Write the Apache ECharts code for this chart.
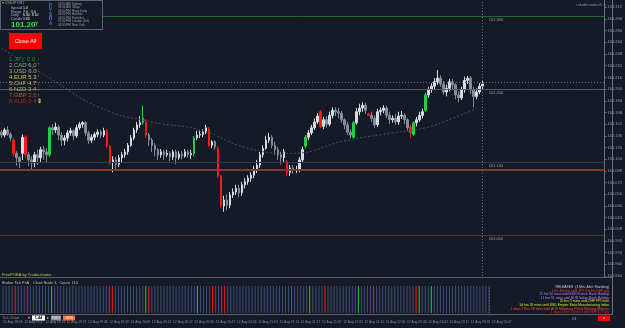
<!DOCTYPE html>
<html>
<head>
<meta charset="utf-8">
<script src="https://cdn.jsdelivr.net/npm/echarts/dist/echarts.min.js"></script>
<style>
html, body { margin: 0; padding: 0; background: #141b26; }
#chart-container { width: 625px; height: 328px; }
</style>
</head>
<body>
<div id="chart-container"></div>
<script>
// candles: [open, close, low, high]
const candles = [
  [101.141,101.137,101.133,101.144],[101.137,101.144,101.134,101.147],[101.144,101.138,101.136,101.149],[101.138,101.133,101.129,101.141],
  [101.130,101.112,101.108,101.133],[101.112,101.106,101.095,101.115],[101.106,101.100,101.092,101.108],[101.112,101.134,101.103,101.138],
  [101.134,101.110,101.106,101.137],[101.110,101.103,101.095,101.114],[101.103,101.099,101.089,101.108],[101.099,101.110,101.093,101.114],
  [101.110,101.106,101.096,101.117],[101.106,101.117,101.100,101.121],[101.117,101.114,101.103,101.122],[101.114,101.110,101.100,101.119],
  [101.110,101.147,101.107,101.149],[101.147,101.144,101.137,101.152],[101.144,101.148,101.140,101.154],[101.148,101.137,101.130,101.151],
  [101.137,101.130,101.122,101.141],[101.130,101.133,101.123,101.137],[101.133,101.140,101.128,101.144],[101.140,101.143,101.136,101.147],
  [101.143,101.136,101.130,101.145],[101.136,101.147,101.133,101.151],[101.147,101.152,101.144,101.155],[101.152,101.154,101.147,101.156],
  [101.154,101.140,101.136,101.156],[101.140,101.130,101.125,101.143],[101.130,101.134,101.126,101.138],[101.134,101.138,101.130,101.141],
  [101.138,101.141,101.134,101.145],[101.141,101.137,101.133,101.144],[101.137,101.143,101.134,101.147],[101.143,101.122,101.119,101.145],
  [101.122,101.100,101.096,101.123],[101.100,101.103,101.086,101.108],[101.103,101.097,101.089,101.107],[101.097,101.106,101.093,101.110],
  [101.106,101.110,101.100,101.114],[101.110,101.114,101.106,101.118],[101.114,101.123,101.110,101.126],[101.123,101.133,101.121,101.137],
  [101.133,101.144,101.130,101.147],[101.144,101.151,101.140,101.155],[101.151,101.154,101.147,101.163],[101.154,101.160,101.151,101.177],
  [101.155,101.137,101.133,101.159],[101.137,101.130,101.122,101.140],[101.130,101.123,101.114,101.133],[101.123,101.117,101.108,101.126],
  [101.117,101.110,101.103,101.119],[101.110,101.114,101.106,101.118],[101.114,101.110,101.103,101.117],[101.110,101.112,101.107,101.117],
  [101.112,101.107,101.101,101.115],[101.107,101.114,101.103,101.117],[101.114,101.106,101.097,101.117],[101.106,101.111,101.103,101.115],
  [101.111,101.108,101.104,101.115],[101.108,101.114,101.106,101.118],[101.114,101.110,101.106,101.117],[101.110,101.112,101.104,101.117],
  [101.112,101.133,101.108,101.136],[101.133,101.137,101.130,101.143],[101.137,101.138,101.133,101.143],[101.138,101.141,101.134,101.145],
  [101.141,101.147,101.138,101.151],[101.145,101.123,101.121,101.148],[101.123,101.128,101.119,101.130],[101.128,101.121,101.117,101.130],
  [101.119,101.081,101.078,101.122],[101.081,101.040,101.037,101.082],[101.040,101.048,101.032,101.054],[101.048,101.041,101.034,101.056],
  [101.041,101.055,101.037,101.059],[101.055,101.059,101.051,101.064],[101.059,101.064,101.055,101.069],[101.064,101.058,101.052,101.069],
  [101.058,101.069,101.054,101.073],[101.069,101.073,101.064,101.078],[101.073,101.078,101.069,101.082],[101.078,101.082,101.073,101.086],
  [101.082,101.089,101.078,101.095],[101.089,101.096,101.085,101.103],[101.096,101.110,101.092,101.114],[101.110,101.119,101.106,101.123],
  [101.119,101.130,101.117,101.136],[101.130,101.134,101.126,101.140],[101.134,101.123,101.119,101.137],[101.123,101.117,101.110,101.128],
  [101.117,101.110,101.103,101.121],[101.110,101.106,101.097,101.114],[101.106,101.114,101.100,101.118],[101.101,101.086,101.081,101.103],
  [101.086,101.092,101.081,101.096],[101.092,101.089,101.084,101.096],[101.089,101.090,101.085,101.095],[101.090,101.103,101.086,101.107],
  [101.103,101.117,101.099,101.121],[101.122,101.134,101.119,101.137],[101.134,101.140,101.130,101.144],[101.140,101.147,101.137,101.151],
  [101.147,101.155,101.144,101.160],[101.155,101.163,101.152,101.167],[101.169,101.149,101.147,101.171],[101.149,101.158,101.145,101.162],
  [101.158,101.152,101.147,101.163],[101.152,101.164,101.149,101.169],[101.164,101.171,101.160,101.175],[101.171,101.169,101.163,101.175],
  [101.169,101.167,101.160,101.174],[101.167,101.158,101.154,101.170],[101.158,101.151,101.145,101.160],[101.151,101.141,101.137,101.155],
  [101.141,101.137,101.133,101.145],[101.134,101.154,101.132,101.156],[101.154,101.169,101.151,101.174],[101.169,101.174,101.164,101.180],
  [101.174,101.178,101.169,101.182],[101.178,101.171,101.166,101.181],[101.166,101.164,101.163,101.167],[101.164,101.160,101.155,101.169],
  [101.160,101.151,101.147,101.164],[101.151,101.169,101.148,101.173],[101.169,101.171,101.164,101.175],[101.171,101.174,101.167,101.178],
  [101.174,101.164,101.160,101.177],[101.164,101.158,101.152,101.169],[101.158,101.160,101.154,101.164],[101.160,101.155,101.151,101.166],
  [101.155,101.163,101.151,101.169],[101.163,101.164,101.159,101.170],[101.164,101.158,101.152,101.167],[101.158,101.147,101.143,101.160],
  [101.148,101.140,101.133,101.151],[101.138,101.154,101.136,101.156],[101.154,101.158,101.149,101.162],[101.158,101.164,101.155,101.169],
  [101.164,101.169,101.160,101.173],[101.171,101.192,101.169,101.195],[101.192,101.199,101.188,101.203],[101.199,101.204,101.195,101.208],
  [101.204,101.210,101.200,101.215],[101.210,101.215,101.206,101.226],[101.215,101.207,101.203,101.219],[101.207,101.196,101.192,101.211],
  [101.196,101.201,101.190,101.206],[101.201,101.210,101.197,101.214],[101.210,101.206,101.199,101.214],[101.206,101.192,101.186,101.208],
  [101.192,101.188,101.182,101.197],[101.188,101.199,101.185,101.203],[101.199,101.212,101.195,101.217],[101.212,101.215,101.207,101.218],
  [101.215,101.199,101.193,101.218],[101.199,101.190,101.175,101.203],[101.190,101.196,101.186,101.201],[101.196,101.204,101.193,101.208],
  [101.204,101.207,101.200,101.211]
];
const redBars = [4, 8, 35, 36, 48, 69, 72, 73, 95, 106, 122, 136];
const greenBars = [16, 47, 64, 101, 117, 137, 141];
const maIndex = [0, 16, 33, 50, 66, 82, 96, 115, 130, 141, 150, 158];
const maValue = [101.256, 101.215, 101.174, 101.155, 101.144, 101.119, 101.112, 101.130, 101.140, 101.147, 101.160, 101.174];
const roundLevels = [101.3, 101.2, 101.1, 101.0];
const redLevel = 101.086;
const bidLine = 101.211, askLine = 101.205, lastPrice = 101.207;
const timeLabels = ['12 Aug 18:59','12 Aug 19:07','12 Aug 19:23','12 Aug 19:27','12 Aug 19:46','12 Aug 19:59',
  '12 Aug 20:09','12 Aug 20:13','12 Aug 20:27','12 Aug 20:36','12 Aug 20:47','12 Aug 20:56','12 Aug 21:03',
  '12 Aug 21:13','12 Aug 21:27','12 Aug 21:47','12 Aug 22:02','12 Aug 22:15','12 Aug 22:30','12 Aug 22:46',
  '12 Aug 23:02','12 Aug 23:17','12 Aug 23:31','12 Aug 23:47'];
const strength = [
  ['1.JPY 0.0', '#2f8a34', '↓', '#ff2020'], ['2.CAD 6.0', '#9c9c86', '↑', '#22d040'],
  ['3.USD 6.0', '#a8a890', '↓', '#ff2020'], ['4.EUR 5.3', '#d8c84a', '↑', '#22d040'],
  ['5.CHF 4.7', '#c8b83c', '↓', '#ff2020'], ['6.NZD 3.4', '#b8a860', '↓', '#ff2020'],
  ['7.GBP 2.6', '#b05a1a', '↑', '#22d040'], ['8.AUD 1.4', '#c02020', '⇕', '#d8d020']
];
const sessions = [['03:50 AM','Sydney'],['03:50 AM','Tokyo'],['03:50 PM','Hong Kong'],['03:50 PM','Helsinki'],
  ['03:50 PM','Frankfurt'],['07:50 PM','London (Dst)'],['02:50 PM','New York']];
const releases = [
  ['RELEASES  (3 Min. Alert Standing)', '#c8ccd4'],
  ['13m 46mins until JPY Prelim GDP q/q', '#ff3030'],
  ['11 hrs 50 mins until EUR French Bank Holiday', '#b080ff'],
  ['11 hrs 51 mins until EUR Italian Bank Holiday', '#b080ff'],
  ['20 hrs 5 mins until CHF PPI m/m', '#e8e020'],
  ['1d hrs 26 mins until USD Empire State Manufacturing Index', '#e8e020'],
  ['1 days 17hrs 29 mins until AUD Monetary Policy Meeting Minutes', '#ff5030'],
  ['1 days 11hrs 55mins until GBP CPI y/y', '#ff2020']
];

const nCats = 201;
const cats = [];
for (let i = 0; i < nCats; i++) cats.push(String(i));

const candleData = candles.map((c, i) => {
  if (redBars.includes(i)) return { value: c, itemStyle: { color: '#ff1a1a', color0: '#ff1a1a', borderColor: '#ff1a1a', borderColor0: '#ff1a1a' } };
  if (greenBars.includes(i)) return { value: c, itemStyle: { color: '#1fd040', color0: '#1fd040', borderColor: '#1fd040', borderColor0: '#1fd040' } };
  return c;
});
const maData = candles.map(() => null);
maIndex.forEach((idx, k) => { maData[idx] = maValue[k]; });
const tickBars = candles.map((c, i) => {
  let col = '#434c7a';
  if (redBars.includes(i)) col = '#ff1a1a';
  if (greenBars.includes(i)) col = '#1fd040';
  return { value: 1, itemStyle: { color: col } };
});

const font = 'Liberation Sans';
function txt(x, y, text, size, fill, extra) {
  return Object.assign({ type: 'text', x: x, y: y, z: 101,
    style: Object.assign({ text: text, fontSize: size, fill: fill, fontFamily: font }, extra || {}) });
}

const graphics = [];
// info panel
graphics.push({ type: 'rect', z: 100, shape: { x: 0.5, y: 0.5, width: 102, height: 29 },
  style: { fill: '#141b26', stroke: '#5d626b', lineWidth: 1 } });
graphics.push(txt(2, 1.5, '▾ USDJPY,M1', 3.5, '#9aa0a8'));
[['Spread', '1.0'], ['Range', '7.0   3.4'], ['Daily', '6.30  8.10'], ['Candle', '1:03']].forEach((r, k) => {
  graphics.push(txt(11, 6.5 + k * 3.5, r[0], 3.5, '#a8b4e0'));
  graphics.push(txt(23, 6.5 + k * 3.5, r[1], 3.5, '#e8e8e8'));
});
graphics.push(txt(11, 20.5, '101.20', 8, '#33e04a', { fontWeight: 'bold' }));
graphics.push(txt(35, 22.5, '7', 5, '#33e04a', { fontWeight: 'bold' }));
['P', 'V', 'S', 'R', 'A'].forEach((ch, k) => graphics.push(txt(49, 3 + k * 4.5, ch, 4.5, '#4f7fd0', { fontWeight: 'bold' })));
sessions.forEach((s, k) => {
  graphics.push(txt(58, 2.5 + k * 3.5, s[0], 3, '#9aa0a8'));
  graphics.push(txt(72, 2.5 + k * 3.5, s[1], 3, '#9aa0a8'));
});
// close all button
graphics.push({ type: 'rect', z: 100, shape: { x: 9, y: 33, width: 33, height: 16 }, style: { fill: '#ff0000' } });
graphics.push(txt(25.5, 41, 'Close All', 5.5, '#ffffff', { align: 'center', verticalAlign: 'middle' }));
// currency strength
strength.forEach((s, k) => {
  graphics.push(txt(9, 56 + k * 6.1, s[0], 6, s[1]));
  graphics.push(txt(37, 55.5 + k * 6.1, s[2], 6, s[3], { fontWeight: 'bold' }));
});
// top right
graphics.push(txt(606, 2.5, 'rukabhandari5 ◷', 4, '#8a9098', { align: 'right' }));
// bottom panel captions and separators
graphics.push({ type: 'line', z: 50, shape: { x1: 0, y1: 277.5, x2: 612, y2: 277.5 }, style: { stroke: '#5a5f68', lineWidth: 1 } });
graphics.push({ type: 'line', z: 50, shape: { x1: 0, y1: 314.5, x2: 612, y2: 314.5 }, style: { stroke: '#5a5f68', lineWidth: 1 } });
graphics.push({ type: 'line', z: 50, shape: { x1: 612.5, y1: 0, x2: 612.5, y2: 315 }, style: { stroke: '#6a707a', lineWidth: 1 } });
graphics.push(txt(2, 272.5, 'FreePOBA by Tradershome', 4, '#b8c840'));
graphics.push(txt(2, 280.5, 'Broker Tick PsA    Chart Scale 3,  Count  110', 3.8, '#c0c4cc'));
// tick chart row
graphics.push(txt(2, 316, 'Tick Chart', 3.8, '#8a9098'));
graphics.push(txt(28, 316, '▾', 3.8, '#c0c4cc'));
graphics.push({ type: 'rect', z: 100, shape: { x: 32, y: 315.5, width: 13, height: 5 }, style: { fill: '#ffffff' } });
graphics.push(txt(38.5, 318, '1.44', 3.8, '#000000', { align: 'center', verticalAlign: 'middle', fontWeight: 'bold' }));
graphics.push(txt(47, 316, '▸', 3.8, '#c0c4cc'));
graphics.push({ type: 'rect', z: 100, shape: { x: 51, y: 315.5, width: 10, height: 5 }, style: { fill: '#8a8fa8' } });
graphics.push(txt(56, 318, 'EBBO', 3, '#e0e0e0', { align: 'center', verticalAlign: 'middle' }));
graphics.push({ type: 'rect', z: 100, shape: { x: 63, y: 315.5, width: 12, height: 5 }, style: { fill: '#ff6a3a' } });
graphics.push(txt(69, 318, 'GBPA', 3, '#ffe0d0', { align: 'center', verticalAlign: 'middle' }));
// releases
releases.forEach((r, k) => graphics.push(txt(609, 285.5 + k * 3.6, r[0], 3.4, r[1], { align: 'right' })));
graphics.push(txt(572, 316.5, '24', 4, '#9aa0a8'));
graphics.push({ type: 'rect', z: 100, shape: { x: 598, y: 315.5, width: 12, height: 5.5 }, style: { fill: '#ff0000' } });
graphics.push(txt(604, 318.3, 'x', 4, '#ffffff', { align: 'center', verticalAlign: 'middle' }));

const levelLines = roundLevels.map((v, k) => ({
  yAxis: v,
  lineStyle: { color: ['#1f6a2c', '#4c525c', '#2e3b58', '#4a3c32'][k], width: 1, type: 'solid' },
  label: { show: false }
}));
const levelLabels = roundLevels.map(v => ({
  coord: ['162', v], symbol: 'rect', symbolSize: 0,
  label: { show: true, formatter: v.toFixed(3), position: [0, 2], fontSize: 4, color: '#9aa0a8', fontFamily: font }
}));

let dom = document.getElementById('chart-container');
let myChart = echarts.init(dom, null, { renderer: 'canvas', useDirtyRect: false });

let option = {
  backgroundColor: '#141b26',
  animation: false,
  textStyle: { fontFamily: font },
  grid: [
    { left: 0, right: 13, top: 0, height: 276 },
    { left: 0, right: 13, top: 286, height: 27 }
  ],
  xAxis: [
    { type: 'category', gridIndex: 0, data: cats, show: false },
    { type: 'category', gridIndex: 1, data: cats,
      axisLine: { show: false }, axisTick: { show: false },
      axisLabel: { interval: 6, align: 'left', margin: 8, fontSize: 3.3, color: '#8a9098',
        formatter: (v, idx) => timeLabels[idx / 7] || '' } }
  ],
  yAxis: [
    { type: 'value', gridIndex: 0, position: 'right', min: 100.944, max: 101.322, interval: 0.016,
      splitLine: { show: false },
      axisLine: { show: true, lineStyle: { color: '#6a707a' } },
      axisTick: { show: true, length: 2, lineStyle: { color: '#6a707a' } },
      axisLabel: { fontSize: 4, color: '#9aa0a8', margin: 3, showMaxLabel: false, formatter: v => v.toFixed(3) } },
    { type: 'value', gridIndex: 1, min: 0, max: 1, show: false }
  ],
  series: [
    {
      type: 'line', name: 'MA', xAxisIndex: 0, yAxisIndex: 0,
      data: maData, connectNulls: true, smooth: 0.5, showSymbol: false,
      lineStyle: { color: '#4a515c', width: 1, type: [2, 2] },
      markLine: {
        silent: true, symbol: 'none',
        data: levelLines.concat([
          { yAxis: redLevel, lineStyle: { color: '#8a3434', width: 2, type: 'solid' }, label: { show: false } },
          { yAxis: bidLine, lineStyle: { color: '#6a707a', width: 1, type: [1, 2] }, label: { show: false } },
          { yAxis: askLine, lineStyle: { color: '#6a707a', width: 1, type: [1, 2] }, label: { show: false } },
          { yAxis: lastPrice, lineStyle: { opacity: 0 },
            label: { show: true, position: 'end', formatter: lastPrice.toFixed(3), fontSize: 4, color: '#1a1a1a',
              backgroundColor: '#b8bcc4', padding: [1, 1], distance: 1 } },
          { xAxis: '160', lineStyle: { color: '#6a707a', width: 1, type: [1, 2] }, label: { show: false } }
        ])
      }
    },
    {
      type: 'candlestick', name: 'USDJPY', xAxisIndex: 0, yAxisIndex: 0,
      data: candleData, barWidth: 2,
      itemStyle: { color: '#d6dae2', color0: '#868b96', borderColor: '#d6dae2', borderColor0: '#868b96', borderWidth: 1 },
      markPoint: { silent: true, data: levelLabels }
    },
    {
      type: 'bar', name: 'ticks', xAxisIndex: 1, yAxisIndex: 1,
      data: tickBars, barWidth: 1,
      markLine: { silent: true, symbol: 'none', label: { show: false },
        data: [{ xAxis: '160', lineStyle: { color: '#6a707a', width: 1, type: [1, 2] } }] }
    }
  ],
  graphic: graphics
};

if (option && typeof option === 'object') {
  myChart.setOption(option);
}

window.addEventListener('resize', myChart.resize);
</script>
</body>
</html>
